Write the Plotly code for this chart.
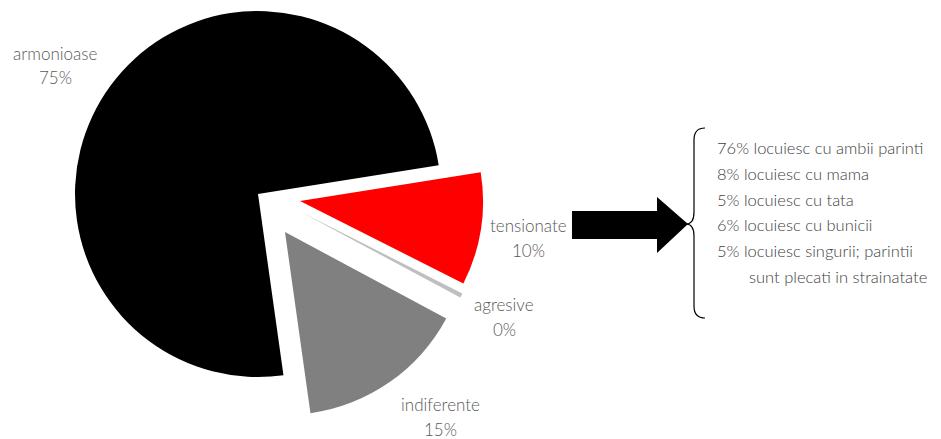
import plotly.graph_objects as go

# ---- data ----
categories = ["armonioase", "tensionate", "agresive", "indiferente"]
values = [75, 10, 0.4, 15]
pct_labels = ["75%", "10%", "0%", "15%"]
colors = ["#000000", "#FF0000", "#BFBFBF", "#808080"]
box_lines = [
    "76% locuiesc cu ambii parinti",
    "8% locuiesc cu mama",
    "5% locuiesc cu tata",
    "6% locuiesc cu bunicii",
    "5% locuiesc singurii; parintii",
    "sunt plecati in strainatate",
]

OFF = 8            # page body margin
W, H = 941 - OFF, 439 - OFF
R = 183  # pie radius in px
# centre of each (exploded) slice, in screen px from top-left
centres = [(258, 194), (300, 201), (299, 211), (285, 232)]
label_pos = [(55, 53), (528, 225), (504, 304), (440, 404)]
FONT = "Lato"
LABEL_COLOR = "#595959"


def X(sx):
    return (sx - OFF) / W


def Y(sy):
    return 1 - (sy - OFF) / H


def domain(cx, cy, r):
    return dict(x=[X(cx - r), X(cx + r)], y=[Y(cy + r), Y(cy - r)])


fig = go.Figure()
for i, (cx, cy) in enumerate(centres):
    cols = [c if j == i else "rgba(0,0,0,0)" for j, c in enumerate(colors)]
    fig.add_trace(go.Pie(
        labels=categories, values=values, sort=False, direction="clockwise",
        rotation=172, textinfo="none", hoverinfo="label+percent",
        marker=dict(colors=cols, line=dict(width=0)),
        domain=domain(cx, cy, R), showlegend=False,
    ))

ann = []
for (x, y), cat, p in zip(label_pos, categories, pct_labels):
    ann.append(dict(x=X(x), y=Y(y), xref="paper", yref="paper", text=cat,
                    showarrow=False, xanchor="center", yanchor="middle",
                    font=dict(family=FONT, size=17, color=LABEL_COLOR, weight=300)))
    ann.append(dict(x=X(x), y=Y(y + 25), xref="paper", yref="paper", text=p,
                    showarrow=False, xanchor="center", yanchor="middle",
                    font=dict(family=FONT, size=17, color=LABEL_COLOR, weight=300)))

line_y = [148, 174, 200, 225, 251, 277]
for i, (t, y) in enumerate(zip(box_lines, line_y)):
    x = 715 if i < 5 else 747
    ann.append(dict(x=X(x), y=Y(y), xref="paper", yref="paper", text=t,
                    showarrow=False, xanchor="left", yanchor="middle",
                    font=dict(family=FONT, size=16.5, color="#404040", weight=300)))


def P(x, y):
    return "{:.5f},{:.5f}".format(X(x), Y(y))


arrow = ("M " + P(572, 211) + " L " + P(657, 211) + " L " + P(657, 197) +
         " L " + P(688, 224) + " L " + P(657, 253) + " L " + P(657, 239) +
         " L " + P(572, 239) + " Z")
brace = ("M " + P(705, 128) + " Q " + P(694, 128) + " " + P(694, 140) +
         " L " + P(694, 212) + " Q " + P(694, 224) + " " + P(686, 224) +
         " Q " + P(694, 224) + " " + P(694, 236) +
         " L " + P(694, 306) + " Q " + P(694, 318) + " " + P(705, 318))
shapes = [
    dict(type="path", xref="paper", yref="paper", path=arrow,
         fillcolor="#000000", line=dict(width=0)),
    dict(type="path", xref="paper", yref="paper", path=brace,
         line=dict(color="#000000", width=1.2)),
]

fig.update_layout(
    width=W, height=H, margin=dict(l=0, r=0, t=0, b=0),
    paper_bgcolor="white", plot_bgcolor="white",
    annotations=ann, shapes=shapes,
    font=dict(family=FONT),
)
fig.write_html("out.html")
